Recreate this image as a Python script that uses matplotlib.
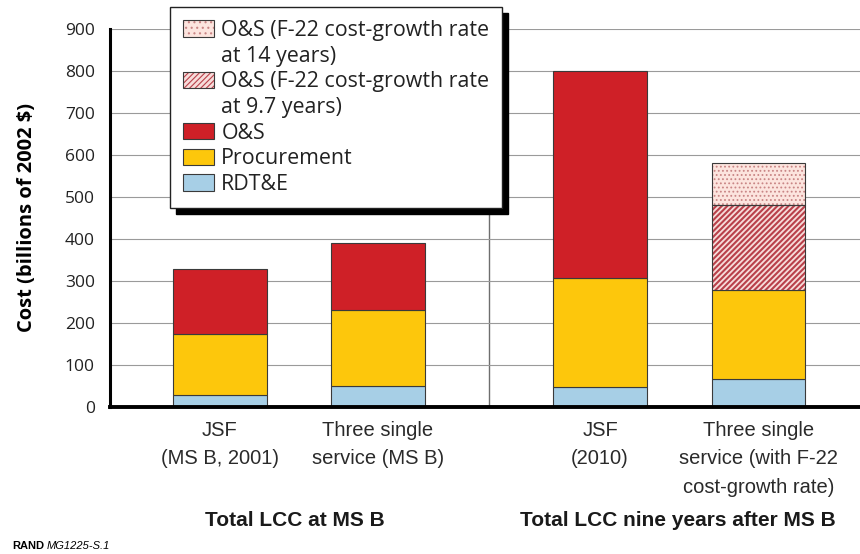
import matplotlib.pyplot as plt
from matplotlib.patches import Patch

# data (billions of 2002 $)
categories = ['JSF\n(MS B, 2001)', 'Three single\nservice (MS B)',
              'JSF\n(2010)', 'Three single\nservice (with F-22\ncost-growth rate)']
groups = ['Total LCC at MS B', 'Total LCC nine years after MS B']
rdte = [28, 50, 47, 66]
procurement = [145, 180, 260, 212]
ons = [156, 161, 493, 0]
ons_97 = [0, 0, 0, 202]
ons_14 = [0, 0, 0, 102]

c_blue = '#A7CFE6'
c_yellow = '#FDC70C'
c_red = '#CF2027'
edge = '#3a3a3a'
narrow = ['Liberation Sans', 'DejaVu Sans']

plt.rcParams['font.family'] = ['Open Sans', 'DejaVu Sans']

fig = plt.figure(figsize=(8.6, 5.54), dpi=100)
ax = fig.add_axes([0.1279, 0.2653, 0.8721, 0.6824])

x = [0, 1, 2.405, 3.41]
w = 0.59
bottom1 = [a + b for a, b in zip(rdte, procurement)]
bottom2 = [a + b for a, b in zip(bottom1, ons)]
bottom3 = [a + b for a, b in zip(bottom2, ons_97)]

ax.bar(x, rdte, w, color=c_blue, edgecolor=edge, linewidth=0.8, zorder=3)
ax.bar(x, procurement, w, bottom=rdte, color=c_yellow, edgecolor=edge, linewidth=0.8, zorder=3)
ax.bar(x[:3], ons[:3], w, bottom=bottom1[:3], color=c_red, edgecolor=edge, linewidth=0.8, zorder=3)

# hatched O&S segments (hatch width is taken from rcParams when a patch is made)
plt.rcParams['hatch.linewidth'] = 1.5
ax.bar(x[3], ons_97[3], w, bottom=bottom2[3], color='#F7DCDA', edgecolor='#B9404A',
       hatch='//////', linewidth=0, zorder=3)
h97 = Patch(facecolor='#F7DCDA', edgecolor='#B9404A', hatch='//////', linewidth=0)
plt.rcParams['hatch.linewidth'] = 0.8
ax.bar(x[3], ons_14[3], w, bottom=bottom3[3], color='#FCE4DE', edgecolor='#C98585',
       hatch='....', linewidth=0, zorder=3)
h14 = Patch(facecolor='#FCE4DE', edgecolor='#C98585', hatch='...', linewidth=0)
ax.bar(x[3], ons_97[3], w, bottom=bottom2[3], fill=False, edgecolor=edge, linewidth=0.8, zorder=4)
ax.bar(x[3], ons_14[3], w, bottom=bottom3[3], fill=False, edgecolor=edge, linewidth=0.8, zorder=4)

ax.set_xlim(-0.696, 4.05)
ax.set_ylim(0, 900)
ax.set_yticks(range(0, 901, 100))
ax.yaxis.grid(True, color='#9a9a9a', linewidth=0.8, zorder=0)
ax.axvline(1.70, color='#6e6e6e', linewidth=1.0, zorder=1)

for s in ['top', 'right']:
    ax.spines[s].set_visible(False)
ax.spines['left'].set_linewidth(2.2)
ax.spines['bottom'].set_linewidth(2.8)
ax.spines['left'].set_zorder(5)
ax.spines['bottom'].set_zorder(5)
ax.tick_params(axis='y', length=0, labelsize=12.5, pad=11, colors='#222222')
ax.tick_params(axis='x', length=0, pad=10)
ax.set_xticks(x)
ax.set_xticklabels(categories, fontsize=14.5, linespacing=1.62, family=narrow, color='#2a2a2a')
ax.set_ylabel('Cost (billions of 2002 $)', fontsize=14.5, fontweight='bold')
ax.yaxis.set_label_coords(-0.097, 0.5)

fig.text(295 / 860, 1 - 521 / 554, groups[0], ha='center', va='center', fontsize=15,
         fontweight='bold', family=narrow, color='#1a1a1a')
fig.text(678 / 860, 1 - 521 / 554, groups[1], ha='center', va='center', fontsize=15,
         fontweight='bold', family=narrow, color='#1a1a1a')
fig.text(12 / 860, 1 - 546 / 554, 'RAND', ha='left', va='center', fontsize=8, fontweight='bold',
         family=narrow)
fig.text(47 / 860, 1 - 546 / 554, 'MG1225-S.1', ha='left', va='center', fontsize=8, style='italic',
         family=narrow)

# legend: second lines of long labels are separate rows with blank handles,
# so the swatch sits beside the first line
outline = Patch(fill=False, edgecolor=edge, linewidth=0.8)
blank = Patch(facecolor='none', edgecolor='none')
handles = [
    (h14, outline), blank,
    (h97, outline), blank,
    Patch(facecolor=c_red, edgecolor=edge, linewidth=0.8),
    Patch(facecolor=c_yellow, edgecolor=edge, linewidth=0.8),
    Patch(facecolor=c_blue, edgecolor=edge, linewidth=0.8),
]
labels = ['O&S (F-22 cost-growth rate', 'at 14 years)',
          'O&S (F-22 cost-growth rate', 'at 9.7 years)',
          'O&S', 'Procurement', 'RDT&E']
leg = fig.legend(handles, labels, loc='upper left', bbox_to_anchor=(170 / 860, 1 - 7 / 554),
                 fontsize=15.4, frameon=True, fancybox=False, edgecolor='#222222',
                 framealpha=1, shadow={'color': 'black', 'alpha': 1, 'ox': 4.5, 'oy': -4.5},
                 handlelength=1.45, handleheight=0.8, handletextpad=0.35, labelspacing=0.22,
                 borderpad=0.6, borderaxespad=0)
for t in leg.get_texts():
    t.set_color('#222222')
leg.get_frame().set_linewidth(1.0)
leg.set_zorder(10)

fig.savefig('out.png', dpi=100)
